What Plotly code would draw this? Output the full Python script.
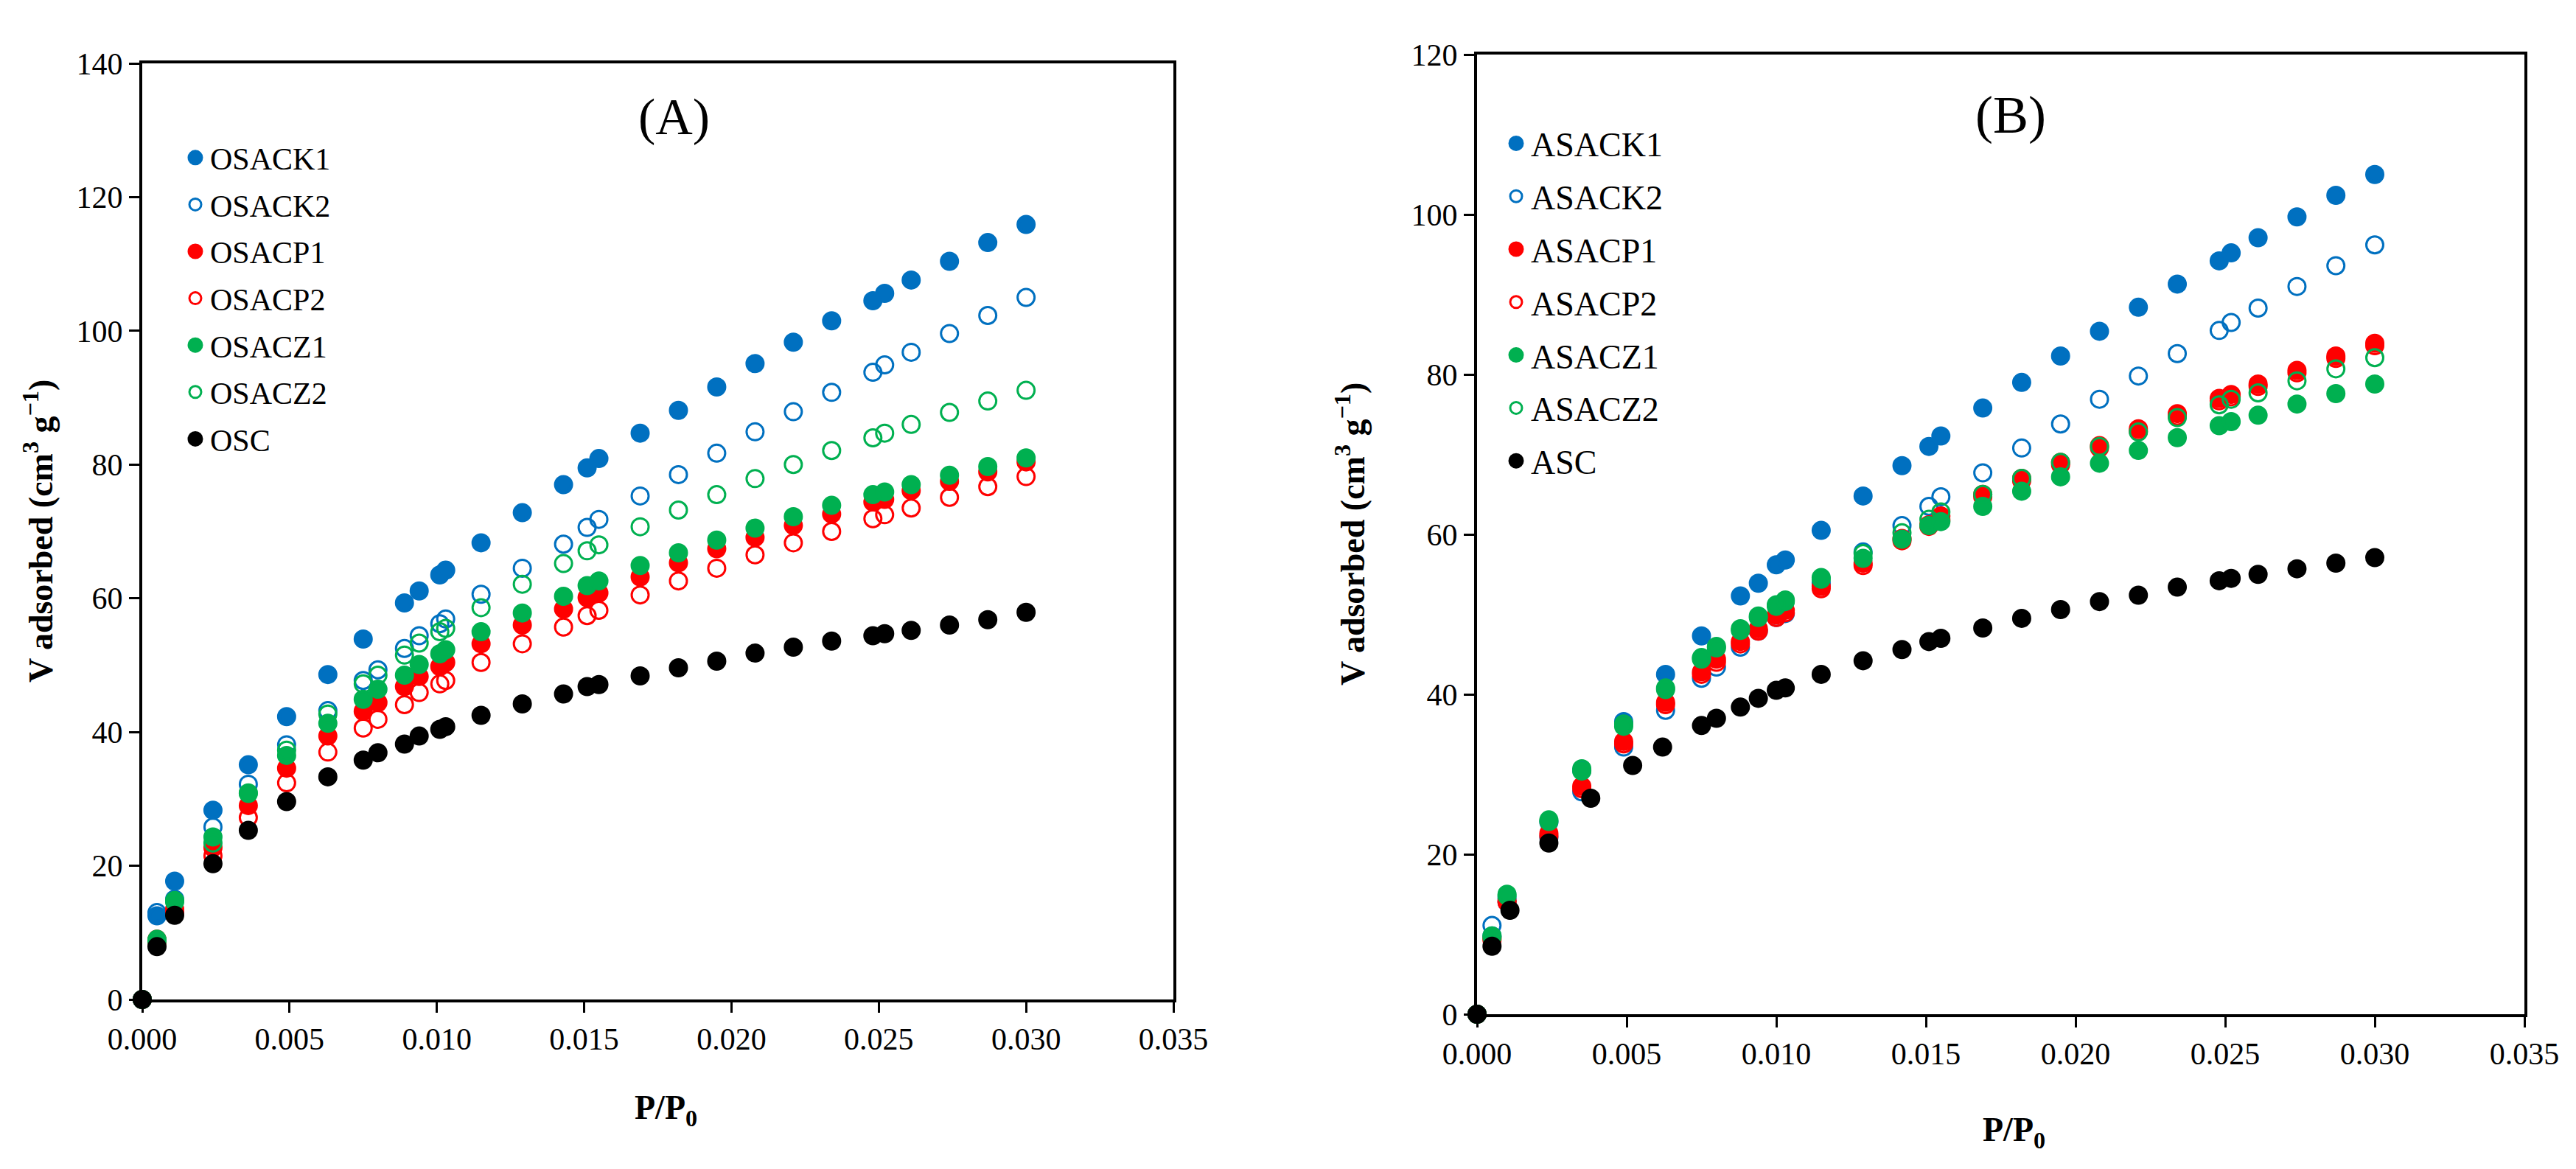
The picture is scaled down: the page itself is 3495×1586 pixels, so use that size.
import plotly.graph_objects as go

W, H = 3495, 1586

# relative pressure P/P0 (shared by the samples of each panel)
px_a = [0, 0.0005, 0.0011, 0.0024, 0.0036, 0.0049, 0.0063, 0.0075, 0.0080, 0.0089,
        0.0094, 0.0101, 0.0103, 0.0115, 0.0129, 0.0143, 0.0151, 0.0155, 0.0169, 0.0182,
        0.0195, 0.0208, 0.0221, 0.0234, 0.0248, 0.0252, 0.0261, 0.0274, 0.0287, 0.0300]
px_b = [0, 0.0005, 0.0010, 0.0024, 0.0035, 0.0049, 0.0063, 0.0075, 0.0080, 0.0088,
        0.0094, 0.0100, 0.0103, 0.0115, 0.0129, 0.0142, 0.0151, 0.0155, 0.0169, 0.0182,
        0.0195, 0.0208, 0.0221, 0.0234, 0.0248, 0.0252, 0.0261, 0.0274, 0.0287, 0.0300]
px_asc = [0, 0.0005, 0.0011, 0.0024, 0.0038, 0.0052, 0.0062, 0.0075, 0.0080, 0.0088,
          0.0094, 0.0100, 0.0103, 0.0115, 0.0129, 0.0142, 0.0151, 0.0155, 0.0169, 0.0182,
          0.0195, 0.0208, 0.0221, 0.0234, 0.0248, 0.0252, 0.0261, 0.0274, 0.0287, 0.0300]

# panel (A) - V adsorbed (cm3/g)
osack1 = [0, 12.5, 17.7, 28.3, 35.1, 42.3, 48.6, 53.9, None, 59.3, 61.1, 63.5, 64.2, 68.3, 72.8,
          77.0, 79.5, 80.9, 84.7, 88.1, 91.6, 95.1, 98.3, 101.5, 104.5, 105.6, 107.6, 110.4, 113.2, 115.9]
osack2 = [0, 13.0, 15.0, 25.8, 32.2, 38.1, 43.2, 47.7, 49.3, 52.5, 54.4, 56.2, 56.9, 60.6, 64.5,
          68.1, 70.6, 71.8, 75.3, 78.5, 81.7, 84.9, 87.9, 90.8, 93.8, 94.9, 96.8, 99.6, 102.3, 105.0]
osacp1 = [0, 9.0, 13.5, 22.7, 29.0, 34.6, 39.4, 43.1, 44.4, 46.8, 48.3, 49.8, 50.4, 53.2, 56.0,
          58.4, 60.1, 60.8, 63.2, 65.3, 67.4, 69.1, 70.9, 72.6, 74.4, 74.8, 76.1, 77.5, 78.9, 80.4]
osacp2 = [0, 8.6, 13.0, 21.5, 27.2, 32.4, 37.0, 40.6, 41.9, 44.1, 45.9, 47.2, 47.7, 50.4, 53.2,
          55.7, 57.4, 58.2, 60.5, 62.6, 64.5, 66.5, 68.3, 70.0, 71.9, 72.5, 73.5, 75.1, 76.7, 78.2]
osacz1 = [0, 8.7, 14.6, 24.3, 30.8, 36.5, 41.3, 44.9, 46.4, 48.5, 50.1, 51.7, 52.3, 55.0, 57.8,
          60.3, 61.9, 62.6, 64.9, 66.8, 68.7, 70.5, 72.2, 73.9, 75.5, 75.9, 77.0, 78.4, 79.7, 81.0]
osacz2 = [0, 9.0, 14.8, 23.4, 30.9, 37.3, 42.7, 47.2, 48.5, 51.5, 53.3, 55.0, 55.5, 58.6, 62.1,
          65.2, 67.1, 68.0, 70.7, 73.2, 75.5, 77.9, 80.0, 82.1, 84.0, 84.7, 86.0, 87.8, 89.5, 91.1]
osc = [0, 7.9, 12.6, 20.3, 25.3, 29.6, 33.3, 35.8, 36.9, 38.2, 39.4, 40.4, 40.8, 42.5, 44.2,
       45.7, 46.8, 47.1, 48.4, 49.6, 50.6, 51.8, 52.7, 53.6, 54.4, 54.7, 55.2, 56.0, 56.8, 57.9]

# panel (B)
asack1 = [0, 9.8, 14.5, 24.0, 30.5, 36.6, 42.5, 47.3, None, 52.3, 53.9, 56.2, 56.8, 60.5, 64.8,
          68.6, 71.0, 72.3, 75.8, 79.0, 82.3, 85.4, 88.4, 91.3, 94.2, 95.2, 97.1, 99.7, 102.4, 105.0]
asack2 = [0, 11.1, 14.0, 22.1, 27.8, 33.4, 38.0, 42.0, 43.4, 45.9, 47.9, 49.6, 50.1, 53.9, 57.8,
          61.1, 63.5, 64.7, 67.7, 70.8, 73.8, 76.9, 79.8, 82.6, 85.5, 86.5, 88.3, 91.0, 93.6, 96.2]
asacp1 = [0, 9.5, 14.2, 22.6, 28.5, 34.1, 39.0, 42.8, 44.4, 46.6, 48.2, 49.9, 50.5, 53.5, 56.4,
          59.5, 61.2, 62.3, 65.0, 67.0, 69.0, 71.1, 73.2, 75.1, 77.0, 77.5, 78.8, 80.5, 82.3, 83.9]
asacp2 = [0, 9.3, 14.0, 22.3, 28.2, 33.8, 38.7, 42.5, 44.0, 46.3, 47.9, 49.6, 50.2, 53.2, 56.1,
          59.2, 61.0, 61.8, 64.7, 66.7, 68.7, 70.8, 72.9, 74.8, 76.7, 77.2, 78.5, 80.2, 82.0, 83.6]
asacz1 = [0, 9.6, 14.8, 24.1, 30.4, 36.0, 40.6, 44.4, 45.8, 48.0, 49.6, 51.0, 51.6, 54.4, 57.0,
          59.4, 61.1, 61.6, 63.5, 65.4, 67.2, 68.9, 70.5, 72.1, 73.6, 74.1, 74.9, 76.3, 77.6, 78.8]
asacz2 = [0, 9.8, 15.0, 24.3, 30.7, 36.3, 40.8, 44.6, 46.0, 48.2, 49.8, 51.2, 51.8, 54.6, 57.6,
          60.2, 61.9, 62.8, 65.0, 67.0, 69.0, 71.0, 72.8, 74.6, 76.2, 76.9, 77.7, 79.2, 80.7, 82.1]
asc = [0, 8.5, 13.0, 21.4, 27.0, 31.1, 33.4, 36.1, 37.0, 38.4, 39.5, 40.5, 40.8, 42.5, 44.2,
       45.6, 46.6, 47.0, 48.3, 49.5, 50.6, 51.6, 52.4, 53.4, 54.2, 54.5, 55.0, 55.7, 56.4, 57.1]

BLUE, RED, GREEN, BLACK = "#0070C0", "#FF0000", "#00B050", "#000000"
FONT = "Liberation Serif"


def fx(p):
    return p / W


def fy(p):
    return 1 - p / H


series_a = [("OSACK1", px_a, osack1, BLUE, True), ("OSACK2", px_a, osack2, BLUE, False),
            ("OSACP1", px_a, osacp1, RED, True), ("OSACP2", px_a, osacp2, RED, False),
            ("OSACZ1", px_a, osacz1, GREEN, True), ("OSACZ2", px_a, osacz2, GREEN, False),
            ("OSC", px_a, osc, BLACK, True)]
series_b = [("ASACK1", px_b, asack1, BLUE, True), ("ASACK2", px_b, asack2, BLUE, False),
            ("ASACP1", px_b, asacp1, RED, True), ("ASACP2", px_b, asacp2, RED, False),
            ("ASACZ1", px_b, asacz1, GREEN, True), ("ASACZ2", px_b, asacz2, GREEN, False),
            ("ASC", px_asc, asc, BLACK, True)]

fig = go.Figure()


def add_series(series, xa, ya, legend):
    for name, xs, ys, color, filled in series:
        if filled:
            # same-colour outline keeps the dot ~26px and makes the legend dot bigger
            marker = dict(symbol="circle", size=21, color=color, line=dict(width=5, color=color))
        else:
            marker = dict(symbol="circle-open", size=23, color=color, line=dict(width=3, color=color))
        fig.add_trace(go.Scatter(x=xs, y=ys, mode="markers", name=name, marker=marker,
                                 xaxis=xa, yaxis=ya, legend=legend, legendgroup=name,
                                 cliponaxis=False))


add_series(series_a, "x", "y", "legend")
add_series(series_b, "x2", "y2", "legend2")

axis_common = dict(showline=True, linecolor="black", linewidth=4, mirror=True,
                   ticks="outside", ticklen=14, tickwidth=3, tickcolor="black",
                   showgrid=False, zeroline=False, automargin=False,
                   tickfont=dict(family=FONT, size=42, color="black"))

fig.update_layout(
    width=W, height=H, autosize=False,
    margin=dict(l=0, r=0, t=0, b=0, pad=0, autoexpand=False),
    paper_bgcolor="white", plot_bgcolor="white",
    font=dict(family=FONT, color="black"),
    xaxis=dict(domain=[fx(185), fx(1584)], range=[0, 0.035], dtick=0.005,
               tickformat=".3f", anchor="y", **axis_common),
    yaxis=dict(domain=[fy(1348), fy(78)], range=[0, 140], dtick=20, anchor="x", **axis_common),
    xaxis2=dict(domain=[fx(1996), fx(3417)], range=[0, 0.035], dtick=0.005,
                tickformat=".3f", anchor="y2", **axis_common),
    yaxis2=dict(domain=[fy(1368), fy(66)], range=[0, 120], dtick=20, anchor="x2", **axis_common),
    legend=dict(x=fx(237), y=fy(172), xanchor="left", yanchor="top",
                font=dict(family=FONT, size=42, color="black"),
                bgcolor="rgba(0,0,0,0)", tracegroupgap=6, itemsizing="trace"),
    legend2=dict(x=fx(2029), y=fy(150), xanchor="left", yanchor="top",
                 font=dict(family=FONT, size=46, color="black"),
                 bgcolor="rgba(0,0,0,0)", tracegroupgap=9, itemsizing="trace"),
)

title_font = dict(family=FONT, size=46, color="black")
annotations = [
    dict(text="(A)", x=fx(906), y=fy(150), font=dict(family=FONT, size=70, color="black")),
    dict(text="(B)", x=fx(2720), y=fy(148), font=dict(family=FONT, size=72, color="black")),
    dict(text="<b>P/P<sub>0</sub></b>", x=fx(896), y=fy(1498), font=title_font),
    dict(text="<b>P/P<sub>0</sub></b>", x=fx(2724), y=fy(1528), font=title_font),
    dict(text="<b>V adsorbed (cm<sup>3</sup> g<sup>\u22121</sup>)</b>", x=fx(44), y=fy(713),
         textangle=-90, font=title_font),
    dict(text="<b>V adsorbed (cm<sup>3</sup> g<sup>\u22121</sup>)</b>", x=fx(1824), y=fy(717),
         textangle=-90, font=title_font),
]
for a in annotations:
    fig.add_annotation(xref="paper", yref="paper", showarrow=False,
                       xanchor="center", yanchor="middle", **a)

fig.write_html("out.html")
